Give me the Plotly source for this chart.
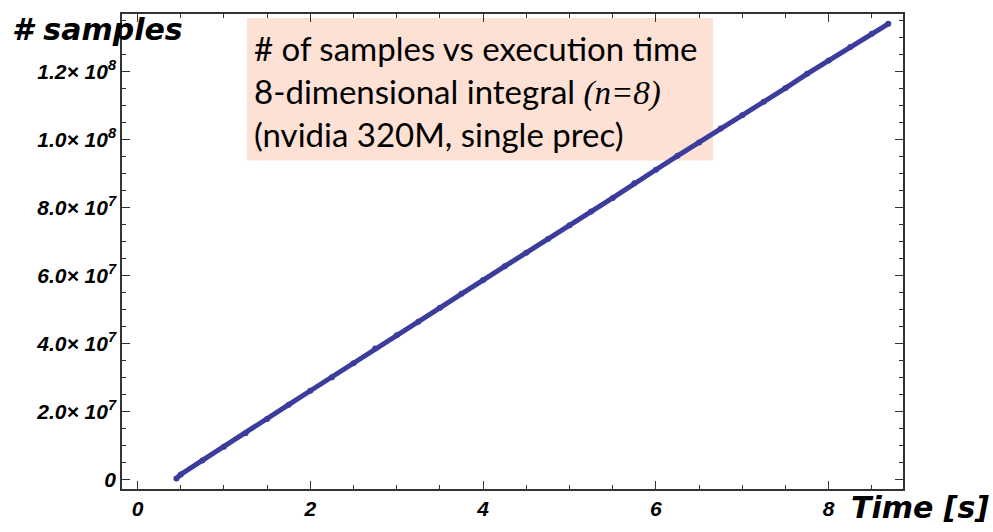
import plotly.graph_objects as go

# execution time [s]
time_s = [0.45, 0.50, 0.75, 1.00, 1.25, 1.50, 1.75, 2.00, 2.25, 2.50, 2.75,
          3.00, 3.25, 3.50, 3.75, 4.00, 4.25, 4.50, 4.75, 5.00, 5.25, 5.50,
          5.75, 6.00, 6.25, 6.50, 6.75, 7.00, 7.25, 7.50, 7.75, 8.00, 8.25,
          8.50, 8.69]
# number of samples
samples = [0.3e6, 1.5e6, 5.6e6, 9.6e6, 13.6e6, 17.8e6, 22.0e6, 26.1e6, 30.1e6,
           34.2e6, 38.5e6, 42.4e6, 46.4e6, 50.5e6, 54.6e6, 58.7e6, 62.7e6,
           66.7e6, 70.7e6, 74.8e6, 78.8e6, 82.8e6, 87.1e6, 91.1e6, 95.2e6,
           99.1e6, 103.2e6, 107.1e6, 111.1e6, 115.1e6, 119.3e6, 123.2e6,
           127.2e6, 131.1e6, 134.0e6]

x_ticks = [0, 2, 4, 6, 8]
x_ticktext = ["0", "2", "4", "6", "8"]
y_ticks = [0, 2e7, 4e7, 6e7, 8e7, 1.0e8, 1.2e8]
y_ticktext = ["0", "2.0×\u00a010<sup>7</sup>", "4.0×\u00a010<sup>7</sup>",
              "6.0×\u00a010<sup>7</sup>", "8.0×\u00a010<sup>7</sup>",
              "1.0×\u00a010<sup>8</sup>", "1.2×\u00a010<sup>8</sup>"]

line_color = "#3c3c9c"
axis_color = "#333333"
tick_font = dict(family="Liberation Sans", size=21, color="black",
                 weight="bold", style="italic")

fig = go.Figure()
fig.add_trace(go.Scatter(
    x=time_s, y=samples, mode="lines+markers",
    line=dict(color=line_color, width=5),
    marker=dict(color=line_color, size=6),
    showlegend=False, hoverinfo="skip",
))

axis_common = dict(
    showline=True, linecolor=axis_color, linewidth=1.5, mirror="ticks",
    ticks="inside", ticklen=8, tickwidth=1, tickcolor=axis_color,
    showgrid=False, zeroline=False, tickfont=tick_font,
)

fig.update_xaxes(
    range=[-0.18, 8.86], tickvals=x_ticks, ticktext=x_ticktext,
    minor=dict(dtick=0.5, tick0=0, ticks="inside", ticklen=4,
               tickcolor=axis_color, tickwidth=1, showgrid=False),
    **axis_common,
)
fig.update_yaxes(
    range=[-2.8e6, 1.369e8], tickvals=y_ticks, ticktext=y_ticktext,
    minor=dict(dtick=5e6, tick0=0, ticks="inside", ticklen=4,
               tickcolor=axis_color, tickwidth=1, showgrid=False),
    **axis_common,
)

title_font = dict(family="DejaVu Sans", size=30, color="black",
                  weight="bold", style="italic")

fig.update_layout(
    width=993, height=532,
    margin=dict(l=122, r=90, t=13, b=39),
    paper_bgcolor="white", plot_bgcolor="rgba(0,0,0,0)",
    shapes=[dict(type="rect", xref="paper", yref="paper",
                 x0=(247 - 122) / 781, x1=(713 - 122) / 781,
                 y0=(493 - 161) / 480, y1=(493 - 17) / 480,
                 fillcolor="#fde1d4", line=dict(width=0), layer="below")],
    annotations=[
        dict(text="# samples", xref="paper", yref="paper",
             x=(10 - 122) / 781, y=(493 - 29) / 480, xanchor="left", yanchor="middle",
             showarrow=False, font=title_font),
        dict(text="Time [s]", xref="paper", yref="paper",
             x=1.0 + 88 / 781, y=-19 / 480, xanchor="right", yanchor="middle",
             showarrow=False, font=title_font),
        dict(text=("# of samples vs execution time<br>"
                   "8-dimensional integral <span style=\"font-family:'Liberation Serif'\"><i>(n=8)</i></span><br>"
                   "(nvidia 320M, single prec)"),
             xref="paper", yref="paper",
             x=(252 - 122) / 781, y=(493 - 25) / 480, xanchor="left", yanchor="top",
             align="left", showarrow=False,
             font=dict(family="Lato", size=33, color="black")),
    ],
)

fig.write_html("out.html")
